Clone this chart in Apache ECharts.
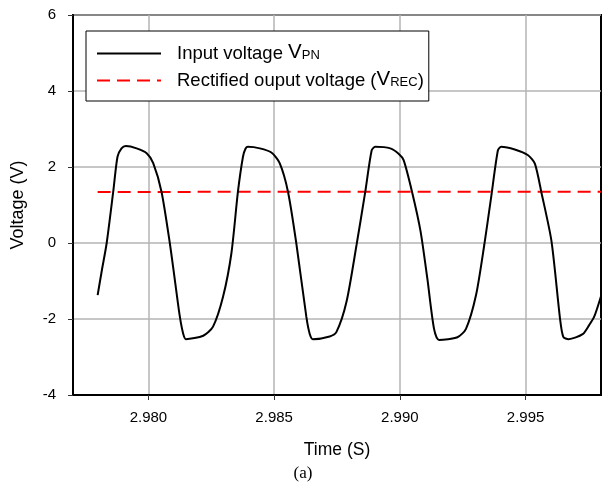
<!DOCTYPE html>
<html>
<head>
<meta charset="utf-8">
<script src="https://cdn.jsdelivr.net/npm/echarts@6/dist/echarts.min.js"></script>
<style>html,body{margin:0;padding:0;background:#fff}#c{width:606px;height:489px}</style>
</head>
<body>
<div id="c"></div>
<script>
// ---- data ----
const seriesNames = ['Input voltage VPN', 'Rectified ouput voltage (VREC)'];
const xTicks = [2.980, 2.985, 2.990, 2.995];
const yTicks = [-4, -2, 0, 2, 4, 6];
const timeVPN = [
  2.97798, 2.97815, 2.97834, 2.97860, 2.97877, 2.97893, 2.97910, 2.97953, 2.97993, 2.98019,
  2.98052, 2.98085, 2.98105, 2.98125, 2.98138, 2.98149, 2.98218, 2.98257, 2.98297, 2.98330,
  2.98356, 2.98376, 2.98386, 2.98396, 2.98443, 2.98489, 2.98522, 2.98555, 2.98588, 2.98628,
  2.98641, 2.98654, 2.98721, 2.98748, 2.98788, 2.98828, 2.98862, 2.98888, 2.98902, 2.98962,
  2.98995, 2.99015, 2.99049, 2.99082, 2.99109, 2.99136, 2.99156, 2.99229, 2.99263, 2.99303,
  2.99336, 2.99363, 2.99390, 2.99403, 2.99457, 2.99510, 2.99537, 2.99563, 2.99603, 2.99637,
  2.99650, 2.99671, 2.99727, 2.99753, 2.99773, 2.99800
];
const valueVPN = [
  -1.37, -0.71, 0.00, 1.35, 2.27, 2.49, 2.55, 2.49, 2.36, 2.10,
  1.35, 0.00, -0.97, -1.94, -2.38, -2.53, -2.44, -2.20, -1.41, -0.27,
  1.35, 2.27, 2.48, 2.53, 2.49, 2.38, 2.10, 1.35, 0.00, -1.94,
  -2.38, -2.53, -2.46, -2.34, -1.54, -0.04, 1.33, 2.44, 2.53, 2.49,
  2.35, 2.18, 1.33, 0.32, -0.92, -2.26, -2.55, -2.48, -2.26, -1.37,
  -0.04, 1.20, 2.44, 2.53, 2.46, 2.31, 2.09, 1.33, 0.05, -1.99,
  -2.47, -2.53, -2.40, -2.16, -1.94, -1.40
];
const timeREC = [2.97798, 2.9850, 2.9920, 2.9980];
const valueREC = [1.34, 1.35, 1.35, 1.35];

const FONT = "'Liberation Sans', Arial, sans-serif";
const chart = echarts.init(document.getElementById('c'), null, {renderer: 'canvas'});
const zip = (a, b) => a.map((v, i) => [v, b[i]]);

chart.setOption({
  backgroundColor: '#fff',
  animation: false,
  grid: {left: 73, right: 5, top: 15, bottom: 94, show: true, borderColor: '#000', borderWidth: 2, backgroundColor: 'transparent'},
  xAxis: {
    type: 'value', min: 2.977, max: 2.998,
    name: 'Time (S)', nameLocation: 'middle', nameGap: 46,
    nameTextStyle: {fontFamily: FONT, fontSize: 17.5, color: '#000'},
    axisLine: {show: true, onZero: false, lineStyle: {color: '#000', width: 2}},
    axisTick: {show: true, length: 5, lineStyle: {color: '#333'}, customValues: xTicks},
    axisLabel: {customValues: xTicks, margin: 15, fontFamily: FONT, fontSize: 15, color: '#000', formatter: v => v.toFixed(3)},
    splitLine: {show: true, lineStyle: {color: '#b4b4b4', width: 1.5}}
  },
  yAxis: {
    type: 'value', min: yTicks[0], max: yTicks[yTicks.length - 1], interval: 2,
    name: 'Voltage (V)', nameLocation: 'middle', nameGap: 46,
    nameTextStyle: {fontFamily: FONT, fontSize: 18, color: '#000'},
    axisLine: {show: true, lineStyle: {color: '#000', width: 2}},
    axisTick: {show: true, length: 5, lineStyle: {color: '#333'}},
    axisLabel: {margin: 17, fontFamily: FONT, fontSize: 15, color: '#000'},
    splitLine: {show: true, lineStyle: {color: '#b4b4b4', width: 1.5}}
  },
  legend: {
    orient: 'vertical', left: 86, top: 31,
    padding: [11, 5, 11, 10],
    borderColor: '#000', borderWidth: 1, backgroundColor: '#fff',
    itemWidth: 64, itemHeight: 14, itemGap: 6,
    itemStyle: {opacity: 0},
    data: seriesNames,
    formatter: n => n === seriesNames[0]
      ? '{g|}{t|Input voltage }{v|V}{s|PN}'
      : '{g|}{t|Rectified ouput voltage (}{v|V}{s|REC}{t|)}',
    textStyle: {
      color: '#000', fontFamily: FONT, lineHeight: 19,
      rich: {
        g: {width: 11},
        t: {fontSize: 18.5, fontFamily: FONT, color: '#000', verticalAlign: 'bottom'},
        v: {fontSize: 20.5, fontFamily: FONT, color: '#000', verticalAlign: 'bottom'},
        s: {fontSize: 13, fontFamily: FONT, color: '#000', verticalAlign: 'bottom', padding: [0, 0, 1, 0]}
      }
    }
  },
  graphic: [{
    type: 'text', left: 'center', top: 465,
    style: {text: '(a)', font: "17px 'Liberation Serif', 'DejaVu Serif', serif", fill: '#000'}
  }],
  series: [{
    name: seriesNames[0], type: 'line', data: zip(timeVPN, valueVPN),
    symbol: 'none', smooth: 0.25, lineStyle: {color: '#000', width: 2}, itemStyle: {color: '#000'}, z: 3
  }, {
    name: seriesNames[1], type: 'line', data: zip(timeREC, valueREC),
    symbol: 'none', lineStyle: {color: '#ff0000', width: 2, type: [13, 7]}, itemStyle: {color: '#ff0000'}, z: 2
  }]
});
</script>
</body>
</html>
